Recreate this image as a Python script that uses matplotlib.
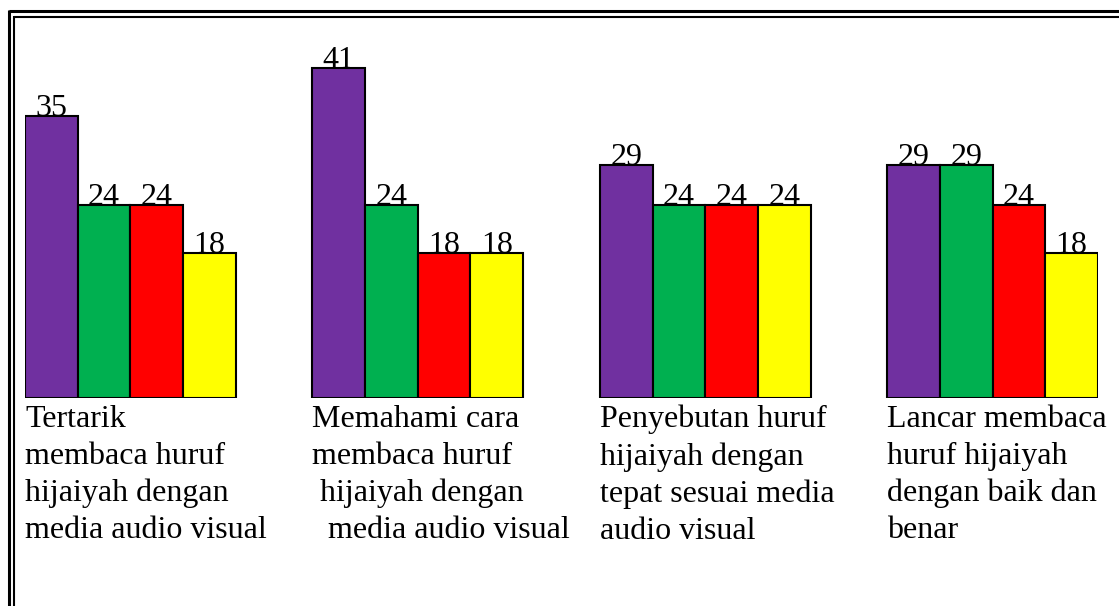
import matplotlib.pyplot as plt
from matplotlib.lines import Line2D

# data
categories = [
    "Tertarik\nmembaca huruf\nhijaiyah dengan\nmedia audio visual",
    "Memahami cara\nmembaca huruf\n hijaiyah dengan\n  media audio visual",
    "Penyebutan huruf\nhijaiyah dengan\ntepat sesuai media\naudio visual",
    "Lancar membaca\nhuruf hijaiyah\ndengan baik dan\nbenar",
]
series_a = [35, 41, 29, 29]
series_b = [24, 24, 24, 29]
series_c = [24, 18, 24, 24]
series_d = [18, 18, 24, 18]
colors = ["#7030A0", "#00B050", "#FF0000", "#FFFF00"]

W, H = 1119, 606
fig = plt.figure(figsize=(W / 100, H / 100), dpi=100)
plt.rcParams['font.family'] = ['Liberation Serif', 'DejaVu Serif']

# axes placed in pixel terms
left, right = 25, 1098
base = 398
ax = fig.add_axes([left / W, (H - base) / H, (right - left) / W, 362 / H])

gap = 5.46  # group spacing in bar widths
n = len(categories)
ax.set_xlim(-0.5, (n - 1) * gap + 3.5)
ax.set_ylim(0, 45)
ax.axis('off')

all_series = [series_a, series_b, series_c, series_d]
for j, vals in enumerate(all_series):
    xs = [i * gap + j for i in range(n)]
    ax.bar(xs, vals, width=1.0, color=colors[j], edgecolor='black', linewidth=1.5)
    for x, v in zip(xs, vals):
        ax.text(x, v, str(v), ha='center', va='baseline', fontsize=23)

for i, lab in enumerate(categories):
    ax.annotate(lab, xy=(i * gap - 0.5, 0), xycoords='data',
                xytext=(0, -5), textcoords='offset points',
                ha='left', va='top', fontsize=23, linespacing=1.35,
                annotation_clip=False)

# double frame, cut off at right and bottom
def fline(x0, y0, x1, y1, lw):
    fig.add_artist(Line2D([x0 / W, x1 / W], [1 - y0 / H, 1 - y1 / H],
                          transform=fig.transFigure, color='black',
                          linewidth=lw, solid_capstyle='butt'))

fline(9, 11, W + 5, 11, 2.2)
fline(9, 10, 9, H + 5, 2.2)
fline(13.5, 17, W + 5, 17, 1.5)
fline(13.5, 16, 13.5, H + 5, 1.5)

fig.savefig('out.png', dpi=100)
